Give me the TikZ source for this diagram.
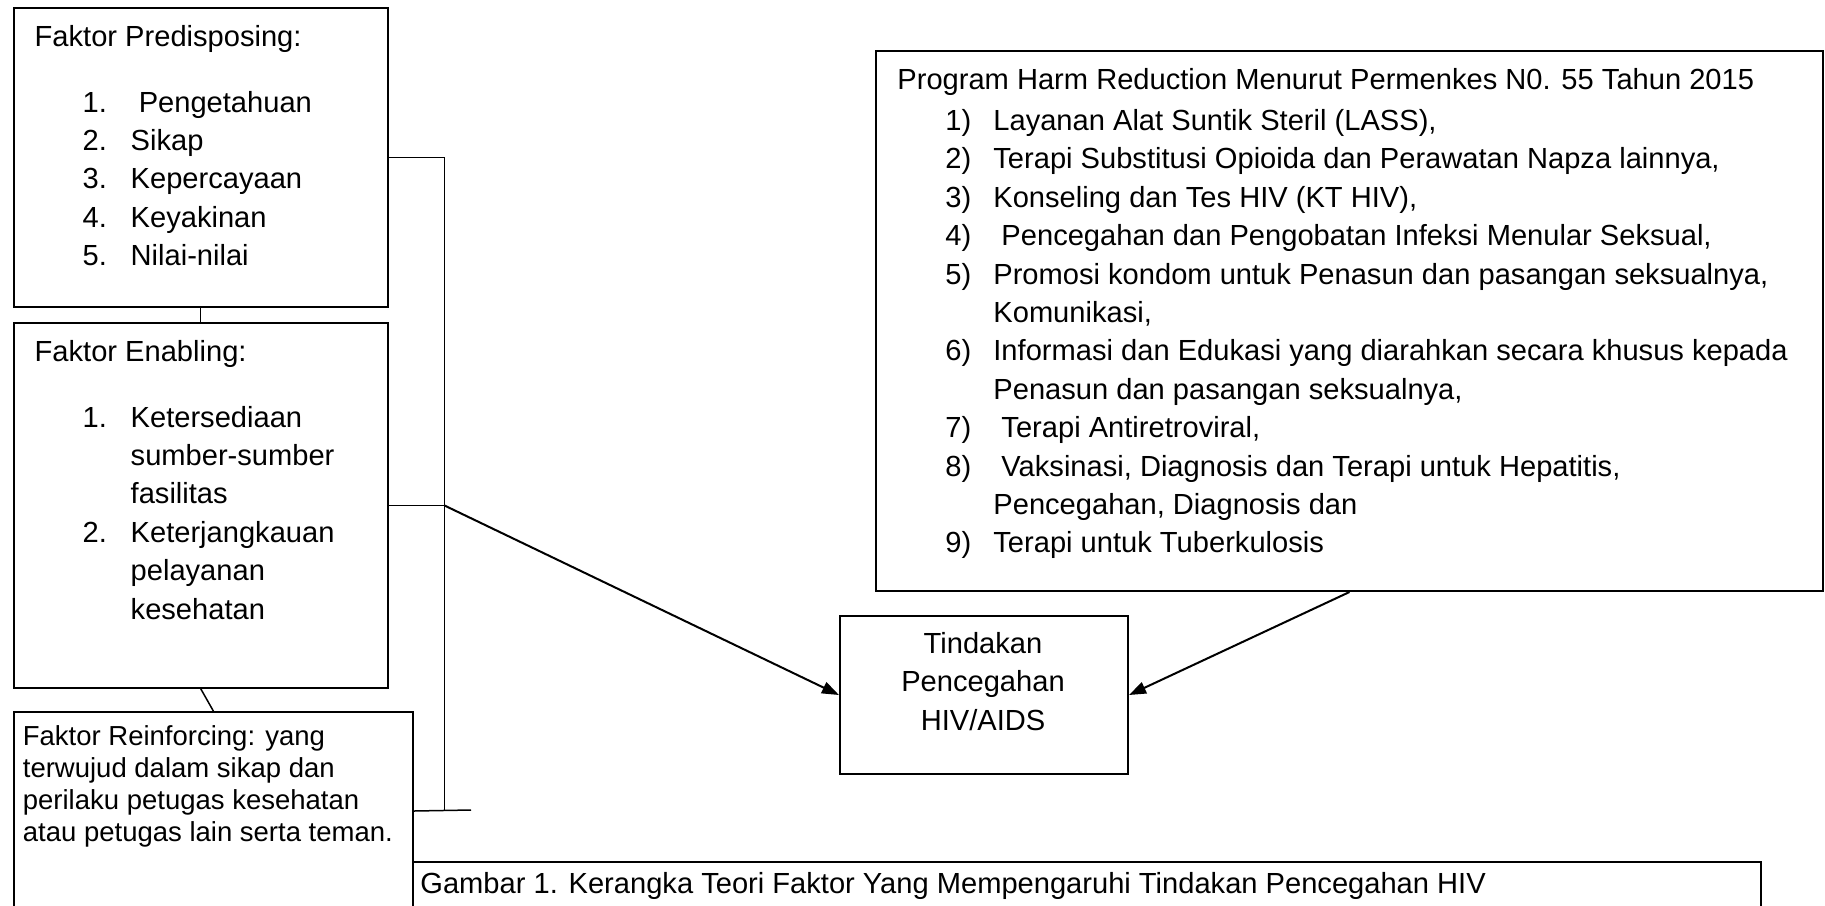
\documentclass[tikz,border=0pt]{standalone}
\usepackage{fontspec}
\setmainfont{Liberation Sans}
\usepackage{tikz}
\usetikzlibrary{arrows.meta,positioning,calc}

\newcommand{\bodyfont}{\fontsize{14.55pt}{19.2pt}\selectfont}
\newcommand{\smallbodyfont}{\fontsize{13.75pt}{16pt}\selectfont}
\newcommand{\topstrut}{\rule{0pt}{14pt}}
\newcommand{\itemno}[1]{\hspace*{24pt}\makebox[24pt][l]{#1}}
\newcommand{\itemcont}{\hspace*{48pt}}

\begin{document}
\begin{tikzpicture}[x=0.5pt, y=-0.5pt,
  box/.style={draw, line width=1pt, anchor=north west, inner sep=0pt},
  txt/.style={anchor=north west, inner sep=0pt, align=left, font=\bodyfont},
  link/.style={line width=0.75pt},
  arrow/.style={-{Triangle[length=8.5pt,width=6pt]}, line width=1pt}
]
\useasboundingbox (0,0) rectangle (1825,905);
\clip (0,0) rectangle (1825,905);

% boxes
\node[box, minimum width=187pt, minimum height=149.2pt] (pre) at (12.7,7.3) {};
\node[box, minimum width=187pt, minimum height=182.2pt] (ena) at (12.7,322.3) {};
\node[box, minimum width=199.65pt, minimum height=99pt] (rei) at (12.7,711) {};
\node[box, minimum width=473.5pt, minimum height=270.25pt] (prog) at (875,49.5) {};
\node[box, minimum width=144pt, minimum height=79pt] (tind) at (839,615) {};
\node[box, minimum width=673.85pt, minimum height=35pt] (cap) at (412.3,861) {};

% texts
\node[txt] (pretxt) at (34.3,17.7) {\topstrut Faktor Predisposing:\\[13.8pt]
  \itemno{1.}\ Pengetahuan\\
  \itemno{2.}Sikap\\
  \itemno{3.}Kepercayaan\\
  \itemno{4.}Keyakinan\\
  \itemno{5.}Nilai-nilai};
\node[txt] (enatxt) at (34.3,333) {\topstrut Faktor Enabling:\\[13.6pt]
  \itemno{1.}Ketersediaan\\
  \itemcont sumber-sumber\\
  \itemcont fasilitas\\
  \itemno{2.}Keterjangkauan\\
  \itemcont pelayanan\\
  \itemcont kesehatan};
\node[txt, font=\smallbodyfont] (reitxt) at (22.5,717) {\topstrut Faktor Reinforcing: yang\\
  terwujud dalam sikap dan\\
  perilaku petugas kesehatan\\
  atau petugas lain serta teman.};
\node[txt] (progtxt) at (897,61) {\topstrut Program Harm Reduction Menurut Permenkes N0. 55 Tahun 2015\\[1.3pt]
  \itemno{1)}Layanan Alat Suntik Steril (LASS),\\
  \itemno{2)}Terapi Substitusi Opioida dan Perawatan Napza lainnya,\\
  \itemno{3)}Konseling dan Tes HIV (KT HIV),\\
  \itemno{4)}\ Pencegahan dan Pengobatan Infeksi Menular Seksual,\\
  \itemno{5)}Promosi kondom untuk Penasun dan pasangan seksualnya,\\
  \itemcont Komunikasi,\\
  \itemno{6)}Informasi dan Edukasi yang diarahkan secara khusus kepada\\
  \itemcont Penasun dan pasangan seksualnya,\\
  \itemno{7)}\ Terapi Antiretroviral,\\
  \itemno{8)}\ Vaksinasi, Diagnosis dan Terapi untuk Hepatitis,\\
  \itemcont Pencegahan, Diagnosis dan\\
  \itemno{9)}Terapi untuk Tuberkulosis};
\node[txt, anchor=north, align=center] (tindtxt) at (983,625) {\topstrut Tindakan\\Pencegahan\\HIV/AIDS};
\node[txt] (captxt) at (420,865) {\topstrut Gambar 1. Kerangka Teori Faktor Yang Mempengaruhi Tindakan Pencegahan HIV};

% connectors
\coordinate (bus) at (444.5,0);
\coordinate (tick) at (471,810);
\draw[link] (pre.south) -- (ena.north);
\draw[link] (ena.south) -- (rei.north);
\draw[link] (pre.east) -- (pre.east -| bus) -- (rei.east -| bus);
\draw[link] (ena.east) -- (ena.east -| bus);
\draw[link] (rei.east) -- (tick);
\draw[arrow] (ena.east -| bus) -- (tind.west);
\draw[arrow] (prog.south) -- (tind.east);
\end{tikzpicture}
\end{document}
